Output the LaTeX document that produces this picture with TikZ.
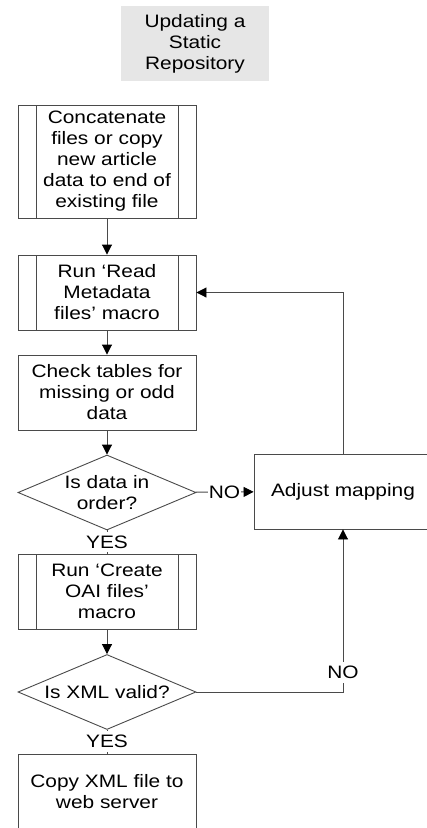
\documentclass[tikz,border=0pt]{standalone}
\usepackage{fontspec}
\setmainfont{Liberation Sans}[FakeStretch=1.16]
\usetikzlibrary{shapes.geometric,arrows.meta}
\newcommand\flowfont{\fontsize{18}{21}\selectfont}
\definecolor{linegray}{HTML}{4A4A4A}
\definecolor{titlegray}{HTML}{E6E6E6}
\begin{document}
\begin{tikzpicture}[x=1pt,y=-1pt,font=\flowfont,
	procbox/.style={draw=linegray,line width=0.9pt,fill=white,align=center,minimum width=178pt,minimum height=75pt,inner sep=0pt},
	predef/.style={procbox,path picture={
		\draw[linegray,line width=0.9pt] ([xshift=18pt]path picture bounding box.north west) -- ([xshift=18pt]path picture bounding box.south west);
		\draw[linegray,line width=0.9pt] ([xshift=-18pt]path picture bounding box.north east) -- ([xshift=-18pt]path picture bounding box.south east);}},
	decision/.style={diamond,draw=linegray,line width=0.9pt,minimum width=178pt,minimum height=75pt,inner sep=0pt},
	titlebox/.style={fill=titlegray,align=center,minimum width=148pt,minimum height=75pt,inner sep=0pt},
	link/.style={draw=linegray,line width=0.9pt},
	arrow/.style={link,-{Triangle[length=10pt,width=10pt,color=black,fill=black]}},
	lbl/.style={fill=white,inner xsep=1pt,inner ysep=4pt}]
	\useasboundingbox (0,0) rectangle (427,828);
	\clip (0,0) rectangle (427,828);
	\node[titlebox] (title) at (195,43.5) {Updating a\\Static\\Repository};
	\node[predef,minimum height=113pt] (concat) at (107,161.5) {Concatenate\\files or copy\\new article\\data to end of\\existing file};
	\node[predef] (readmeta) at (107,292.5) {Run ‘Read\\Metadata\\files’ macro};
	\node[procbox] (check) at (107,392.5) {Check tables for\\missing or odd\\data};
	\node[decision,label={[align=center]center:Is data in\\order?}] (dataok) at (107,492.5) {};
	\node[predef] (createoai) at (107,591.5) {Run ‘Create\\OAI files’\\macro};
	\node[decision,label={[align=center]center:Is XML valid?}] (xmlok) at (107,692) {};
	\node[procbox] (copyxml) at (107,791.5) {Copy XML file to\\web server};
	\node[procbox] (adjust) at (343,491.5) {Adjust mapping};
	\draw[arrow] (concat) -- (readmeta);
	\draw[arrow] (readmeta) -- (check);
	\draw[arrow] (check) -- (dataok);
	\draw[link] (dataok) -- node[lbl] {YES} (createoai);
	\draw[arrow] (createoai) -- (xmlok);
	\draw[link] (xmlok) -- node[lbl] {YES} (copyxml);
	\draw[arrow] (dataok) -- node[lbl] {NO} (adjust);
	\draw[arrow] (xmlok.east) -| node[lbl,pos=0.56] {NO} (adjust.south);
	\draw[arrow] (adjust.north) |- (readmeta.east);
\end{tikzpicture}
\end{document}
